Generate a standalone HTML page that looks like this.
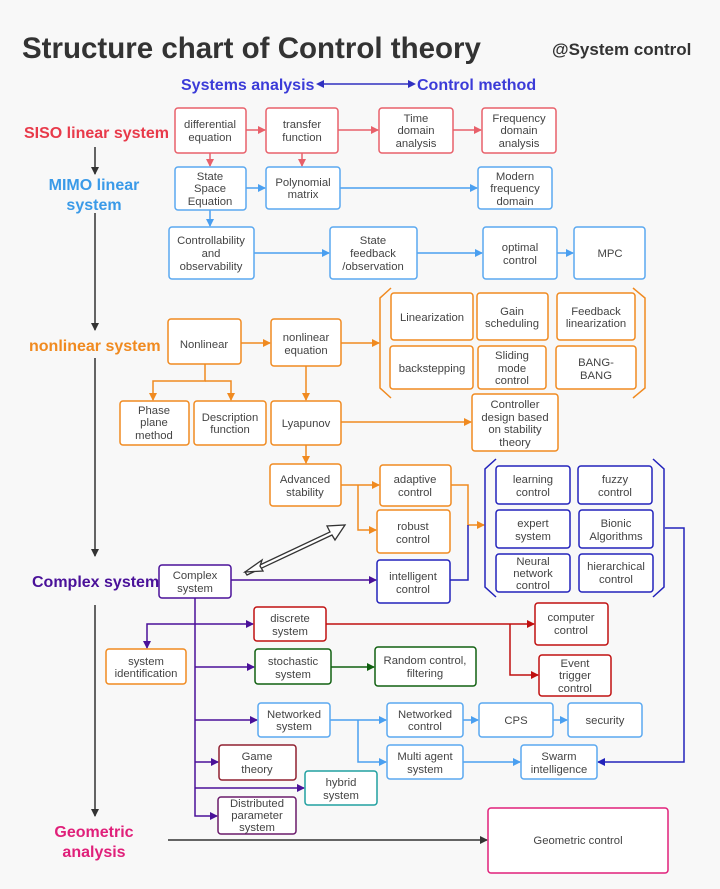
<!DOCTYPE html>
<html><head><meta charset="utf-8"><style>
body{margin:0;background:#f8f8f8}
svg{display:block;font-family:"Liberation Sans",sans-serif}
.b text{font-size:11.3px;fill:#444;text-anchor:middle}
</style></head><body>
<svg width="720" height="889" viewBox="0 0 720 889" xmlns="http://www.w3.org/2000/svg">
<defs>
<marker id="ak" markerWidth="8" markerHeight="8" refX="7" refY="4" orient="auto" markerUnits="userSpaceOnUse"><path d="M0,0L8,4L0,8z" fill="#333"/></marker>
<marker id="ar" markerWidth="8" markerHeight="8" refX="7" refY="4" orient="auto" markerUnits="userSpaceOnUse"><path d="M0,0L8,4L0,8z" fill="#e8606a"/></marker>
<marker id="ab" markerWidth="8" markerHeight="8" refX="7" refY="4" orient="auto" markerUnits="userSpaceOnUse"><path d="M0,0L8,4L0,8z" fill="#4a9ff0"/></marker>
<marker id="ao" markerWidth="8" markerHeight="8" refX="7" refY="4" orient="auto" markerUnits="userSpaceOnUse"><path d="M0,0L8,4L0,8z" fill="#f08a20"/></marker>
<marker id="ap" markerWidth="8" markerHeight="8" refX="7" refY="4" orient="auto" markerUnits="userSpaceOnUse"><path d="M0,0L8,4L0,8z" fill="#4a1199"/></marker>
<marker id="ad" markerWidth="8" markerHeight="8" refX="7" refY="4" orient="auto" markerUnits="userSpaceOnUse"><path d="M0,0L8,4L0,8z" fill="#2222bb"/></marker>
<marker id="aR" markerWidth="8" markerHeight="8" refX="7" refY="4" orient="auto" markerUnits="userSpaceOnUse"><path d="M0,0L8,4L0,8z" fill="#c01010"/></marker>
<marker id="ag" markerWidth="8" markerHeight="8" refX="7" refY="4" orient="auto" markerUnits="userSpaceOnUse"><path d="M0,0L8,4L0,8z" fill="#106010"/></marker>
<marker id="as" markerWidth="8" markerHeight="8" refX="4" refY="4" orient="auto-start-reverse" markerUnits="userSpaceOnUse"><path d="M0,0L8,4L0,8z" fill="#3030c0"/></marker>
</defs>
<text x="22" y="58" font-size="29.5" font-weight="bold" fill="#333">Structure chart of Control theory</text>
<text x="552" y="55" font-size="17" font-weight="bold" fill="#333">@System control</text>
<text x="181" y="90" font-size="16" font-weight="bold" fill="#3b3bd8">Systems analysis</text>
<text x="417" y="90" font-size="16" font-weight="bold" fill="#3b3bd8">Control method</text>
<line x1="320" y1="84" x2="412" y2="84" stroke="#3030c0" stroke-width="1.5" marker-start="url(#as)" marker-end="url(#as)"/>
<g font-size="16" font-weight="bold">
<text x="24" y="138" fill="#e83a4a">SISO linear system</text>
<text x="94" y="190" fill="#3a9ae8" text-anchor="middle">MIMO linear</text>
<text x="94" y="210" fill="#3a9ae8" text-anchor="middle">system</text>
<text x="29" y="351" fill="#f08a20">nonlinear system</text>
<text x="32" y="587" fill="#4a1199">Complex system</text>
<text x="94" y="837" fill="#e0207a" text-anchor="middle">Geometric</text>
<text x="94" y="857" fill="#e0207a" text-anchor="middle">analysis</text>
</g>
<g stroke="#333" stroke-width="1.5" fill="none" marker-end="url(#ak)">
<line x1="95" y1="147" x2="95" y2="174"/><line x1="95" y1="213" x2="95" y2="330"/><line x1="95" y1="358" x2="95" y2="556"/><line x1="95" y1="605" x2="95" y2="816"/><line x1="168" y1="840" x2="487" y2="840"/>
</g>
<path d="M245,572 L330,532 L327,526 L345,525 L335,540 L332,535 L247,575z" fill="#fff" stroke="#333" stroke-width="1.3"/>
<path d="M245,572 L262,560 L260,566 L263,571z" fill="#fff" stroke="#333" stroke-width="1.3"/>
<g stroke-width="1.5" fill="none">
<g stroke="#e8606a" marker-end="url(#ar)"><line x1="246" y1="130" x2="265" y2="130"/><line x1="338" y1="130" x2="378" y2="130"/><line x1="453" y1="130" x2="481" y2="130"/><line x1="210" y1="153" x2="210" y2="166"/><line x1="302" y1="153" x2="302" y2="166"/></g>
<g stroke="#4a9ff0" marker-end="url(#ab)"><line x1="246" y1="188" x2="265" y2="188"/><line x1="340" y1="188" x2="477" y2="188"/><line x1="210" y1="210" x2="210" y2="226"/><line x1="254" y1="253" x2="329" y2="253"/><line x1="417" y1="253" x2="482" y2="253"/><line x1="557" y1="253" x2="573" y2="253"/>
<line x1="330" y1="720" x2="386" y2="720"/><polyline points="358,720 358,762 386,762"/><line x1="463" y1="720" x2="478" y2="720"/><line x1="553" y1="720" x2="567" y2="720"/><line x1="463" y1="762" x2="520" y2="762"/></g>
<g stroke="#f08a20" marker-end="url(#ao)"><line x1="241" y1="343" x2="270" y2="343"/><line x1="341" y1="343" x2="379" y2="343"/><polyline points="205,364 205,381 153,381 153,400"/><polyline points="205,381 231,381 231,400"/><line x1="306" y1="366" x2="306" y2="400"/><line x1="341" y1="422" x2="471" y2="422"/><line x1="306" y1="445" x2="306" y2="463"/><polyline points="341,485 358,485 379,485"/><polyline points="358,485 358,530 376,530"/><polyline points="451,485 468,485 468,525 484,525"/></g>
<polyline points="450,580 468,580 468,525" stroke="#2222bb"/>
<polyline points="665,528 684,528 684,762 598,762" stroke="#2222bb" marker-end="url(#ad)"/>
<g stroke="#4a1199" marker-end="url(#ap)"><line x1="231" y1="580" x2="376" y2="580"/><line x1="195" y1="624" x2="253" y2="624"/><polyline points="195,624 147,624 147,648"/><line x1="195" y1="667" x2="254" y2="667"/><line x1="195" y1="720" x2="257" y2="720"/><line x1="195" y1="762" x2="218" y2="762"/><line x1="195" y1="788" x2="304" y2="788"/><polyline points="195,598 195,816 217,816"/></g>
<g stroke="#c01010" marker-end="url(#aR)"><line x1="326" y1="624" x2="534" y2="624"/><polyline points="510,624 510,675 538,675"/></g>
<line x1="331" y1="667" x2="374" y2="667" stroke="#106010" marker-end="url(#ag)"/>
</g>
<g fill="none" stroke-width="1.5">
<path d="M391,288 L380,298 L380,388 L391,398 M633,288 L645,298 L645,388 L633,398" stroke="#f08a20"/>
<path d="M496,459 L485,469 L485,587 L496,597 M653,459 L664,469 L664,587 L653,597" stroke="#2222bb"/>
</g>
<g class="b" stroke-width="1.5">
<g stroke="#e8606a" fill="#fff"><rect x="175" y="108" width="71" height="45" rx="3"/><rect x="266" y="108" width="72" height="45" rx="3"/><rect x="379" y="108" width="74" height="45" rx="3"/><rect x="482" y="108" width="74" height="45" rx="3"/></g>
<g stroke="#5aa8f0" fill="#fff"><rect x="175" y="167" width="71" height="43" rx="3"/><rect x="266" y="167" width="74" height="42" rx="3"/><rect x="478" y="167" width="74" height="42" rx="3"/><rect x="169" y="227" width="85" height="52" rx="3"/><rect x="330" y="227" width="87" height="52" rx="3"/><rect x="483" y="227" width="74" height="52" rx="3"/><rect x="574" y="227" width="71" height="52" rx="3"/>
<rect x="258" y="703" width="72" height="34" rx="3"/><rect x="387" y="703" width="76" height="34" rx="3"/><rect x="479" y="703" width="74" height="34" rx="3"/><rect x="568" y="703" width="74" height="34" rx="3"/><rect x="387" y="745" width="76" height="34" rx="3"/><rect x="521" y="745" width="76" height="34" rx="3"/></g>
<g stroke="#f08a20" fill="#fff"><rect x="168" y="319" width="73" height="45" rx="3"/><rect x="271" y="319" width="70" height="47" rx="3"/><rect x="391" y="293" width="82" height="47" rx="3"/><rect x="477" y="293" width="71" height="47" rx="3"/><rect x="557" y="293" width="78" height="47" rx="3"/><rect x="390" y="346" width="83" height="43" rx="3"/><rect x="478" y="346" width="68" height="43" rx="3"/><rect x="556" y="346" width="80" height="43" rx="3"/>
<rect x="120" y="401" width="69" height="44" rx="3"/><rect x="194" y="401" width="72" height="44" rx="3"/><rect x="271" y="401" width="70" height="44" rx="3"/><rect x="472" y="394" width="86" height="57" rx="3"/><rect x="270" y="464" width="71" height="42" rx="3"/><rect x="380" y="465" width="71" height="41" rx="3"/><rect x="377" y="510" width="73" height="43" rx="3"/><rect x="106" y="649" width="80" height="35" rx="3"/></g>
<g stroke="#2222bb" fill="#fff"><rect x="377" y="560" width="73" height="43" rx="3"/><rect x="496" y="466" width="74" height="38" rx="3"/><rect x="578" y="466" width="74" height="38" rx="3"/><rect x="496" y="510" width="74" height="38" rx="3"/><rect x="579" y="510" width="74" height="38" rx="3"/><rect x="496" y="554" width="74" height="38" rx="3"/><rect x="579" y="554" width="74" height="38" rx="3"/></g>
<rect x="159" y="565" width="72" height="33" rx="3" stroke="#4a1199" fill="#fff"/>
<g stroke="#c01010" fill="#fff"><rect x="254" y="607" width="72" height="34" rx="3"/><rect x="535" y="603" width="73" height="42" rx="3"/><rect x="539" y="655" width="72" height="41" rx="3"/></g>
<g stroke="#106010" fill="#fff"><rect x="255" y="649" width="76" height="35" rx="3"/><rect x="375" y="647" width="101" height="39" rx="3"/></g>
<rect x="219" y="745" width="77" height="35" rx="3" stroke="#902030" fill="#fff"/>
<rect x="305" y="771" width="72" height="34" rx="3" stroke="#20a0a0" fill="#fff"/>
<rect x="218" y="797" width="78" height="37" rx="3" stroke="#6a1a6a" fill="#fff"/>
<rect x="488" y="808" width="180" height="65" rx="3" stroke="#e0207a" fill="#fff"/>
</g>
<g class="b">
<text x="210" y="128">differential</text><text x="210" y="141">equation</text>
<text x="302" y="128">transfer</text><text x="302" y="141">function</text>
<text x="416" y="122">Time</text><text x="416" y="134">domain</text><text x="416" y="147">analysis</text>
<text x="519" y="122">Frequency</text><text x="519" y="134">domain</text><text x="519" y="147">analysis</text>
<text x="210" y="180">State</text><text x="210" y="192">Space</text><text x="210" y="205">Equation</text>
<text x="303" y="186">Polynomial</text><text x="303" y="198">matrix</text>
<text x="515" y="180">Modern</text><text x="515" y="192">frequency</text><text x="515" y="205">domain</text>
<text x="211" y="244">Controllability</text><text x="211" y="257">and</text><text x="211" y="270">observability</text>
<text x="373" y="244">State</text><text x="373" y="257">feedback</text><text x="373" y="270">/observation</text>
<text x="520" y="251">optimal</text><text x="520" y="264">control</text>
<text x="610" y="257">MPC</text>
<text x="204" y="348">Nonlinear</text>
<text x="306" y="341">nonlinear</text><text x="306" y="354">equation</text>
<text x="432" y="321">Linearization</text>
<text x="512" y="315">Gain</text><text x="512" y="327">scheduling</text>
<text x="596" y="315">Feedback</text><text x="596" y="327">linearization</text>
<text x="432" y="372">backstepping</text>
<text x="512" y="359">Sliding</text><text x="512" y="372">mode</text><text x="512" y="384">control</text>
<text x="596" y="366">BANG-</text><text x="596" y="379">BANG</text>
<text x="154" y="414">Phase</text><text x="154" y="426">plane</text><text x="154" y="439">method</text>
<text x="230" y="421">Description</text><text x="230" y="433">function</text>
<text x="306" y="427">Lyapunov</text>
<text x="515" y="408">Controller</text><text x="515" y="421">design based</text><text x="515" y="433">on stability</text><text x="515" y="446">theory</text>
<text x="305" y="483">Advanced</text><text x="305" y="496">stability</text>
<text x="415" y="483">adaptive</text><text x="415" y="496">control</text>
<text x="413" y="530">robust</text><text x="413" y="543">control</text>
<text x="413" y="580">intelligent</text><text x="413" y="593">control</text>
<text x="533" y="483">learning</text><text x="533" y="496">control</text>
<text x="615" y="483">fuzzy</text><text x="615" y="496">control</text>
<text x="533" y="527">expert</text><text x="533" y="540">system</text>
<text x="616" y="527">Bionic</text><text x="616" y="540">Algorithms</text>
<text x="533" y="565">Neural</text><text x="533" y="577">network</text><text x="533" y="589">control</text>
<text x="616" y="570">hierarchical</text><text x="616" y="583">control</text>
<text x="195" y="579">Complex</text><text x="195" y="592">system</text>
<text x="290" y="622">discrete</text><text x="290" y="635">system</text>
<text x="146" y="665">system</text><text x="146" y="677">identification</text>
<text x="293" y="665">stochastic</text><text x="293" y="678">system</text>
<text x="425" y="664">Random control,</text><text x="425" y="677">filtering</text>
<text x="294" y="718">Networked</text><text x="294" y="730">system</text>
<text x="425" y="718">Networked</text><text x="425" y="730">control</text>
<text x="516" y="724">CPS</text>
<text x="605" y="724">security</text>
<text x="425" y="760">Multi agent</text><text x="425" y="773">system</text>
<text x="559" y="760">Swarm</text><text x="559" y="773">intelligence</text>
<text x="571" y="621">computer</text><text x="571" y="634">control</text>
<text x="575" y="667">Event</text><text x="575" y="679">trigger</text><text x="575" y="692">control</text>
<text x="257" y="760">Game</text><text x="257" y="773">theory</text>
<text x="341" y="786">hybrid</text><text x="341" y="799">system</text>
<text x="257" y="807">Distributed</text><text x="257" y="819">parameter</text><text x="257" y="831">system</text>
<text x="578" y="844">Geometric control</text>
</g>
</svg>
</body></html>
